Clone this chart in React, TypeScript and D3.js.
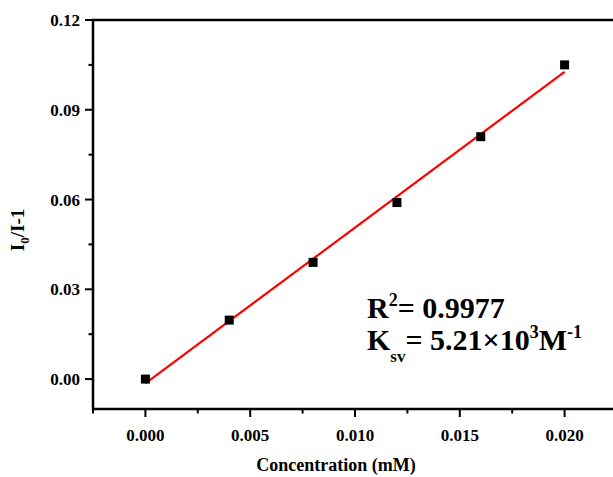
import React, { useEffect, useRef } from "react";
import * as d3 from "d3";

const concentrations = [0, 0.004, 0.008, 0.012, 0.016, 0.02];
const ratios = [0, 0.0197, 0.039, 0.059, 0.081, 0.105];
const xMajorTicks = [0, 0.005, 0.01, 0.015, 0.02];
const xMinorTicks = [-0.0025, 0.0025, 0.0075, 0.0125, 0.0175, 0.0225];
const yMajorTicks = [0, 0.03, 0.06, 0.09, 0.12];
const yMinorTicks = [0.015, 0.045, 0.075, 0.105];

const W = 613;
const H = 477;
const left = 93;
const right = 617;
const top = 20;
const bottom = 409;
const FONT = "'Liberation Serif', 'Times New Roman', serif";

export default function App() {
  const ref = useRef<SVGGElement>(null);

  useEffect(() => {
    const svg = d3.select(ref.current);
    svg.selectAll("*").remove();

    const x = d3.scaleLinear().domain([-0.0025, 0.0225]).range([left, right]);
    const y = d3.scaleLinear().domain([-0.01, 0.12]).range([bottom, top]);

    // least squares fit
    const xm = d3.mean(concentrations)!;
    const ym = d3.mean(ratios)!;
    let sxy = 0, sxx = 0;
    concentrations.forEach((c, i) => {
      sxy += (c - xm) * (ratios[i] - ym);
      sxx += (c - xm) * (c - xm);
    });
    const slope = sxy / sxx;
    const intercept = ym - slope * xm;

    // frame
    svg.append("rect")
      .attr("x", left).attr("y", top)
      .attr("width", right - left).attr("height", bottom - top)
      .attr("fill", "none").attr("stroke", "#000").attr("stroke-width", 2.5);

    const g = svg.append("g").attr("stroke", "#000").attr("stroke-width", 2);
    xMajorTicks.forEach((t) => {
      g.append("line").attr("x1", x(t)).attr("x2", x(t)).attr("y1", bottom).attr("y2", bottom + 8);
    });
    xMinorTicks.forEach((t) => {
      g.append("line").attr("x1", x(t)).attr("x2", x(t)).attr("y1", bottom).attr("y2", bottom + 4.5);
    });
    yMajorTicks.forEach((t) => {
      g.append("line").attr("y1", y(t)).attr("y2", y(t)).attr("x1", left).attr("x2", left - 8);
    });
    yMinorTicks.forEach((t) => {
      g.append("line").attr("y1", y(t)).attr("y2", y(t)).attr("x1", left).attr("x2", left - 4.5);
    });

    const fmtX = d3.format(".3f");
    const fmtY = d3.format(".2f");
    svg.append("g").selectAll("text").data(xMajorTicks).join("text")
      .attr("x", (d) => x(d)).attr("y", 441)
      .attr("text-anchor", "middle")
      .attr("font-family", FONT).attr("font-weight", "bold").attr("font-size", 17)
      .text((d) => fmtX(d));
    svg.append("g").selectAll("text").data(yMajorTicks).join("text")
      .attr("x", 80).attr("y", (d) => y(d) + 6)
      .attr("text-anchor", "end")
      .attr("font-family", FONT).attr("font-weight", "bold").attr("font-size", 17)
      .text((d) => fmtY(d));

    // fit line
    const x0 = d3.min(concentrations)!;
    const x1 = d3.max(concentrations)!;
    svg.append("line")
      .attr("x1", x(x0)).attr("y1", y(slope * x0 + intercept))
      .attr("x2", x(x1)).attr("y2", y(slope * x1 + intercept))
      .attr("stroke", "#ff0000").attr("stroke-width", 2.2);

    // points
    svg.append("g").selectAll("rect").data(concentrations).join("rect")
      .attr("x", (d) => x(d) - 4.5)
      .attr("y", (_d, i) => y(ratios[i]) - 4.5)
      .attr("width", 9).attr("height", 9)
      .attr("fill", "#000");
  }, []);

  return (
    <svg
      width={W}
      height={H}
      style={{ position: "absolute", left: 0, top: 0, background: "#fff" }}
    >
      <g ref={ref} />
      <text
        x={336}
        y={471}
        textAnchor="middle"
        fontFamily={FONT}
        fontWeight="bold"
        fontSize={18}
      >
        Concentration (mM)
      </text>
      <text
        transform="translate(24,230) rotate(-90)"
        textAnchor="middle"
        fontFamily={FONT}
        fontWeight="bold"
        fontSize={19}
      >
        I<tspan fontSize={13} dy={5}>0</tspan>
        <tspan dy={-5}>/I-1</tspan>
      </text>
      <text x={367} y={318} fontFamily={FONT} fontWeight="bold" fontSize={30}>
        R<tspan fontSize={18} dy={-12}>2</tspan>
        <tspan dy={12}>= 0.9977</tspan>
      </text>
      <text x={367} y={350} fontFamily={FONT} fontWeight="bold" fontSize={30}>
        K<tspan fontSize={17} dy={12}>sv</tspan>
        <tspan dy={-12}>= 5.21×10</tspan>
        <tspan fontSize={18} dy={-12}>3</tspan>
        <tspan dy={12}>M</tspan>
        <tspan fontSize={18} dy={-12}>-1</tspan>
      </text>
    </svg>
  );
}
